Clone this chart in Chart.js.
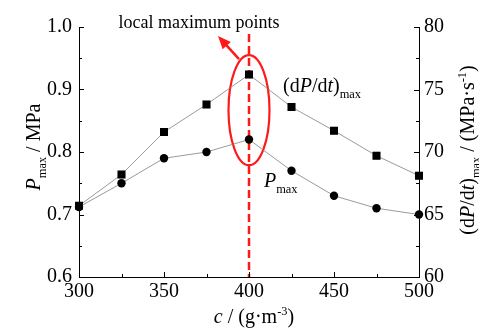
<!DOCTYPE html>
<html>
<head>
<meta charset="utf-8">
<script src="https://cdn.jsdelivr.net/npm/chart.js@4.4.1/dist/chart.umd.min.js"></script>
<style>
  body { margin: 0; background: #fff; }
  canvas { display: block; }
</style>
</head>
<body>
<canvas id="chart" width="479" height="335"></canvas>
<script>
// data
const conc = [300, 325, 350, 375, 400, 425, 450, 475, 500];
const pmax = [0.712, 0.75, 0.79, 0.80, 0.82, 0.77, 0.73, 0.71, 0.70];
const dpdt = [65.7, 68.2, 71.6, 73.8, 76.2, 73.6, 71.7, 69.7, 68.1];
const xTicks = [300, 350, 400, 450, 500];
const pTicks = [0.6, 0.7, 0.8, 0.9, 1.0];
const rTicks = [60, 65, 70, 75, 80];

const SERIF = "'Liberation Serif', 'Times New Roman', serif";
Chart.defaults.font.family = SERIF;
Chart.defaults.font.size = 20;
Chart.defaults.color = '#000';

// text with italic / sub / sup parts
function richWidth(ctx, parts, size) {
  let w = 0;
  parts.forEach(p => {
    const s = (p.sub || p.sup) ? size * 0.62 : size;
    ctx.font = (p.it ? 'italic ' : '') + s + 'px ' + SERIF;
    w += ctx.measureText(p.t).width;
  });
  return w;
}
function drawRich(ctx, parts, x, y, size, align) {
  let cx = x;
  if (align === 'center') cx = x - richWidth(ctx, parts, size) / 2;
  ctx.textBaseline = 'alphabetic';
  ctx.textAlign = 'left';
  parts.forEach(p => {
    const s = (p.sub || p.sup) ? size * 0.62 : size;
    ctx.font = (p.it ? 'italic ' : '') + s + 'px ' + SERIF;
    let dy = 0;
    if (p.sub) dy = size * 0.3;
    if (p.sup) dy = -size * 0.42;
    ctx.fillText(p.t, cx, y + dy);
    cx += ctx.measureText(p.t).width;
  });
}

const annotations = {
  id: 'annotations',
  beforeDatasetsDraw(chart) {
    const ctx = chart.ctx;
    const x = chart.scales.x, yl = chart.scales.y;
    const px = x.getPixelForValue(400);
    ctx.save();
    ctx.strokeStyle = '#ff1a1a';
    ctx.fillStyle = '#ff1a1a';
    // dashed vertical line
    ctx.lineWidth = 2.5;
    ctx.setLineDash([8, 4]);
    ctx.beginPath();
    ctx.moveTo(px, 34);
    ctx.lineTo(px, chart.chartArea.bottom);
    ctx.stroke();
    ctx.setLineDash([]);
    // ellipse round the maxima
    const cy = yl.getPixelForValue(0.867);
    ctx.lineWidth = 2.2;
    ctx.beginPath();
    ctx.ellipse(px, cy, 20.5, 55, 0, 0, Math.PI * 2);
    ctx.stroke();
    // arrow
    const x0 = px - 10, y0 = cy - 51, x1 = 218, y1 = 36;
    const ang = Math.atan2(y1 - y0, x1 - x0);
    ctx.lineWidth = 2.5;
    ctx.beginPath();
    ctx.moveTo(x0, y0);
    ctx.lineTo(x1 - 9 * Math.cos(ang), y1 - 9 * Math.sin(ang));
    ctx.stroke();
    ctx.beginPath();
    ctx.moveTo(x1, y1);
    ctx.lineTo(x1 - 13 * Math.cos(ang) + 5.5 * Math.sin(ang), y1 - 13 * Math.sin(ang) - 5.5 * Math.cos(ang));
    ctx.lineTo(x1 - 13 * Math.cos(ang) - 5.5 * Math.sin(ang), y1 - 13 * Math.sin(ang) + 5.5 * Math.cos(ang));
    ctx.closePath();
    ctx.fill();
    ctx.restore();
  },
  afterDraw(chart) {
    const ctx = chart.ctx;
    const { x, y, y2 } = chart.scales;
    const area = chart.chartArea;
    ctx.save();
    ctx.fillStyle = '#000';
    ctx.strokeStyle = '#000';
    ctx.lineWidth = 1;
    // inward tick marks, major and minor
    for (let v = 300; v <= 500; v += 25) {
      const p = Math.round(x.getPixelForValue(v)) + 0.5;
      const len = v % 50 === 0 ? 5 : 3;
      ctx.beginPath(); ctx.moveTo(p, area.bottom); ctx.lineTo(p, area.bottom - len); ctx.stroke();
    }
    for (let i = 0; i <= 8; i++) {
      const v = 0.6 + i * 0.05;
      const p = Math.round(y.getPixelForValue(v)) + 0.5;
      const len = i % 2 === 0 ? 5 : 3;
      ctx.beginPath(); ctx.moveTo(area.left, p); ctx.lineTo(area.left + len, p); ctx.stroke();
    }
    for (let i = 0; i <= 8; i++) {
      const v = 60 + i * 2.5;
      const p = Math.round(y2.getPixelForValue(v)) + 0.5;
      const len = i % 2 === 0 ? 5 : 3;
      ctx.beginPath(); ctx.moveTo(area.right, p); ctx.lineTo(area.right - len, p); ctx.stroke();
    }
    // titles
    ctx.textAlign = 'center';
    ctx.font = '18px ' + SERIF;
    ctx.fillText('local maximum points', 199, 28);
    drawRich(ctx, [{ t: '(d' }, { t: 'P', it: true }, { t: '/d' }, { t: 't', it: true }, { t: ')' }, { t: 'max', sub: true }], 283, 92, 20);
    drawRich(ctx, [{ t: 'P', it: true }, { t: 'max', sub: true }], 264, 187, 20);
    drawRich(ctx, [{ t: 'c', it: true }, { t: ' / (g·m' }, { t: '-3', sup: true }, { t: ')' }], 254, 323, 20, 'center');
    ctx.save();
    ctx.translate(40, 147);
    ctx.rotate(-Math.PI / 2);
    drawRich(ctx, [{ t: 'P', it: true }, { t: 'max', sub: true }, { t: ' / MPa' }], 0, 0, 20, 'center');
    ctx.restore();
    ctx.save();
    ctx.translate(474, 150);
    ctx.rotate(-Math.PI / 2);
    drawRich(ctx, [{ t: '(d' }, { t: 'P', it: true }, { t: '/d' }, { t: 't', it: true }, { t: ')' }, { t: 'max', sub: true },
      { t: ' / (MPa·s' }, { t: '-1', sup: true }, { t: ')' }], 0, 0, 20, 'center');
    ctx.restore();
    ctx.restore();
  }
};

const points = (ys) => conc.map((c, i) => ({ x: c, y: ys[i] }));

new Chart(document.getElementById('chart'), {
  type: 'line',
  data: {
    datasets: [{
      label: 'Pmax',
      data: points(pmax),
      yAxisID: 'y',
      borderColor: '#808080',
      borderWidth: 0.8,
      pointStyle: 'circle',
      pointRadius: 4.2,
      pointBackgroundColor: '#000',
      pointBorderColor: '#000',
      pointBorderWidth: 0,
      clip: false
    }, {
      label: '(dP/dt)max',
      data: points(dpdt),
      yAxisID: 'y2',
      borderColor: '#808080',
      borderWidth: 0.8,
      pointStyle: 'rect',
      pointRadius: 5.7,
      pointBackgroundColor: '#000',
      pointBorderColor: '#000',
      pointBorderWidth: 0,
      clip: false
    }]
  },
  options: {
    responsive: false,
    devicePixelRatio: 1,
    animation: false,
    layout: { padding: { top: 27, left: 0, right: 0, bottom: 0 } },
    plugins: { legend: { display: false }, tooltip: { enabled: false } },
    scales: {
      x: {
        type: 'linear',
        min: 300, max: 500,
        afterFit: (s) => { s.height = 58; },
        afterBuildTicks: (s) => { s.ticks = xTicks.map(v => ({ value: v })); },
        ticks: { padding: 3, maxRotation: 0, autoSkip: false, callback: (v) => String(v) },
        grid: { drawOnChartArea: false, drawTicks: false },
        border: { color: '#000', width: 1 }
      },
      y: {
        position: 'left',
        min: 0.6, max: 1.0,
        afterFit: (s) => { s.width = 79; },
        afterBuildTicks: (s) => { s.ticks = pTicks.map(v => ({ value: v })); },
        ticks: { padding: 7, autoSkip: false, callback: (v) => v.toFixed(1) },
        grid: { drawOnChartArea: false, drawTicks: false },
        border: { color: '#000', width: 1 }
      },
      y2: {
        position: 'right',
        min: 60, max: 80,
        afterFit: (s) => { s.width = 60; },
        afterBuildTicks: (s) => { s.ticks = rTicks.map(v => ({ value: v })); },
        ticks: { padding: 5, autoSkip: false, callback: (v) => String(v) },
        grid: { drawOnChartArea: false, drawTicks: false },
        border: { color: '#000', width: 1 }
      }
    }
  },
  plugins: [annotations]
});
</script>
</body>
</html>
